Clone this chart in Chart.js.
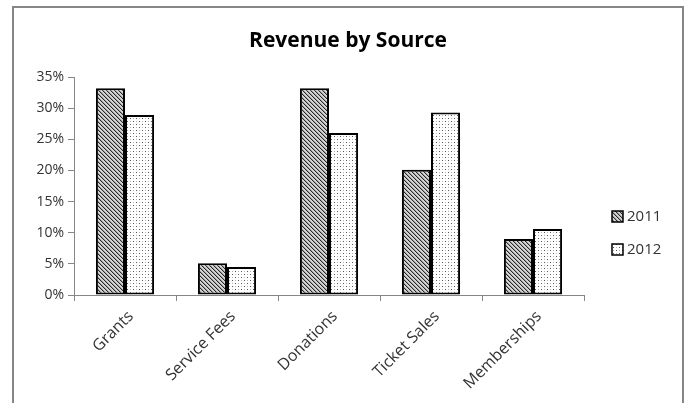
<!DOCTYPE html>
<html>
<head>
<meta charset="utf-8">
<script src="https://cdn.jsdelivr.net/npm/chart.js@4/dist/chart.umd.min.js"></script>
<style>
  html, body { margin: 0; padding: 0; background: #fff; overflow: hidden; }
  #wrap { width: 688px; height: 403px; }
</style>
</head>
<body>
<div id="wrap"><canvas id="grafico" width="688" height="403"></canvas></div>
<script>
// Datos del gráfico
const categorias = ['Grants', 'Service Fees', 'Donations', 'Ticket Sales', 'Memberships'];
const valores2011 = [33.2, 5.1, 33.2, 20.1, 9.0];
const valores2012 = [28.9, 4.5, 26.0, 29.3, 10.6];
const series = ['2011', '2012'];
const ticksY = [0, 5, 10, 15, 20, 25, 30, 35];
const titulo = 'Revenue by Source';

// Patrones de relleno (rayado y punteado como en Excel)
function patronRayado() {
  const c = document.createElement('canvas');
  c.width = 4; c.height = 4;
  const g = c.getContext('2d');
  g.fillStyle = '#d4d4d4';
  g.fillRect(0, 0, 4, 4);
  g.fillStyle = '#a0a0a0';
  for (let i = 0; i < 4; i++) g.fillRect((i + 1) % 4, i, 1, 1);
  g.fillStyle = '#2a2a2a';
  for (let i = 0; i < 4; i++) g.fillRect(i, i, 1, 1);
  return g.createPattern(c, 'repeat');
}

function patronPunteado() {
  const c = document.createElement('canvas');
  c.width = 6; c.height = 6;
  const g = c.getContext('2d');
  g.fillStyle = '#fff';
  g.fillRect(0, 0, 6, 6);
  g.fillStyle = '#555';
  g.fillRect(1, 1, 1, 1);
  g.fillRect(4, 4, 1, 1);
  g.fillStyle = '#b4b4b4';
  g.fillRect(1, 4, 1, 1);
  g.fillRect(4, 1, 1, 1);
  return g.createPattern(c, 'repeat');
}

const rellenos = [patronRayado(), patronPunteado()];
const fuente = "'Open Sans', 'DejaVu Sans', sans-serif";

// Marco exterior, título centrado en todo el ancho y leyenda a la derecha
const marcoYLeyenda = {
  id: 'marcoYLeyenda',
  beforeDraw(chart) {
    const ctx = chart.ctx;
    ctx.save();
    ctx.fillStyle = '#fff';
    ctx.fillRect(0, 0, chart.width, chart.height);
    ctx.strokeStyle = '#868686';
    ctx.lineWidth = 2;
    ctx.strokeRect(13, 7, 670, 430);
    ctx.fillStyle = '#000';
    ctx.font = 'bold 21px ' + fuente;
    ctx.textAlign = 'center';
    ctx.textBaseline = 'middle';
    ctx.fillText(titulo, 348, 41);
    ctx.restore();
  },
  afterDraw(chart) {
    const ctx = chart.ctx;
    ctx.save();
    ctx.font = '15px ' + fuente;
    ctx.textBaseline = 'middle';
    chart.data.datasets.forEach((ds, i) => {
      const y = 217 + i * 33;
      ctx.fillStyle = ds.backgroundColor;
      ctx.fillRect(612, y - 6, 11, 11);
      ctx.strokeStyle = '#000';
      ctx.lineWidth = 1.5;
      ctx.strokeRect(612, y - 6, 11, 11);
      ctx.fillStyle = '#333';
      ctx.fillText(ds.label, 627, y);
    });
    ctx.restore();
  }
};

new Chart(document.getElementById('grafico').getContext('2d'), {
  type: 'bar',
  data: {
    labels: categorias,
    datasets: [
      { label: series[0], data: valores2011, backgroundColor: rellenos[0] },
      { label: series[1], data: valores2012, backgroundColor: rellenos[1] }
    ]
  },
  options: {
    responsive: false,
    animation: false,
    devicePixelRatio: 1,
    layout: { padding: { left: 0, right: 104, top: 77, bottom: 0 } },
    datasets: {
      bar: {
        borderColor: '#000',
        borderWidth: 2,
        borderSkipped: false,
        categoryPercentage: 0.57,
        barPercentage: 1
      }
    },
    plugins: {
      legend: { display: false },
      tooltip: { enabled: false },
      title: { display: false }
    },
    scales: {
      x: {
        afterFit(scale) { scale.height = 108; },
        grid: { drawOnChartArea: false, color: '#868686', tickLength: 6, offset: true },
        border: { color: '#868686', width: 1 },
        ticks: {
          color: '#333',
          font: { family: fuente, size: 16 },
          maxRotation: 45,
          minRotation: 45,
          padding: 6,
          labelOffset: 6
        }
      },
      y: {
        min: 0,
        max: 35,
        afterFit(scale) { scale.width = 74; },
        afterBuildTicks(scale) { scale.ticks = ticksY.map(v => ({ value: v })); },
        grid: { drawOnChartArea: false, color: '#868686', tickLength: 6 },
        border: { color: '#868686', width: 1 },
        ticks: {
          color: '#333',
          font: { family: fuente, size: 14 },
          padding: 4,
          callback: v => v + '%'
        }
      }
    }
  },
  plugins: [marcoYLeyenda]
});
</script>
</body>
</html>
